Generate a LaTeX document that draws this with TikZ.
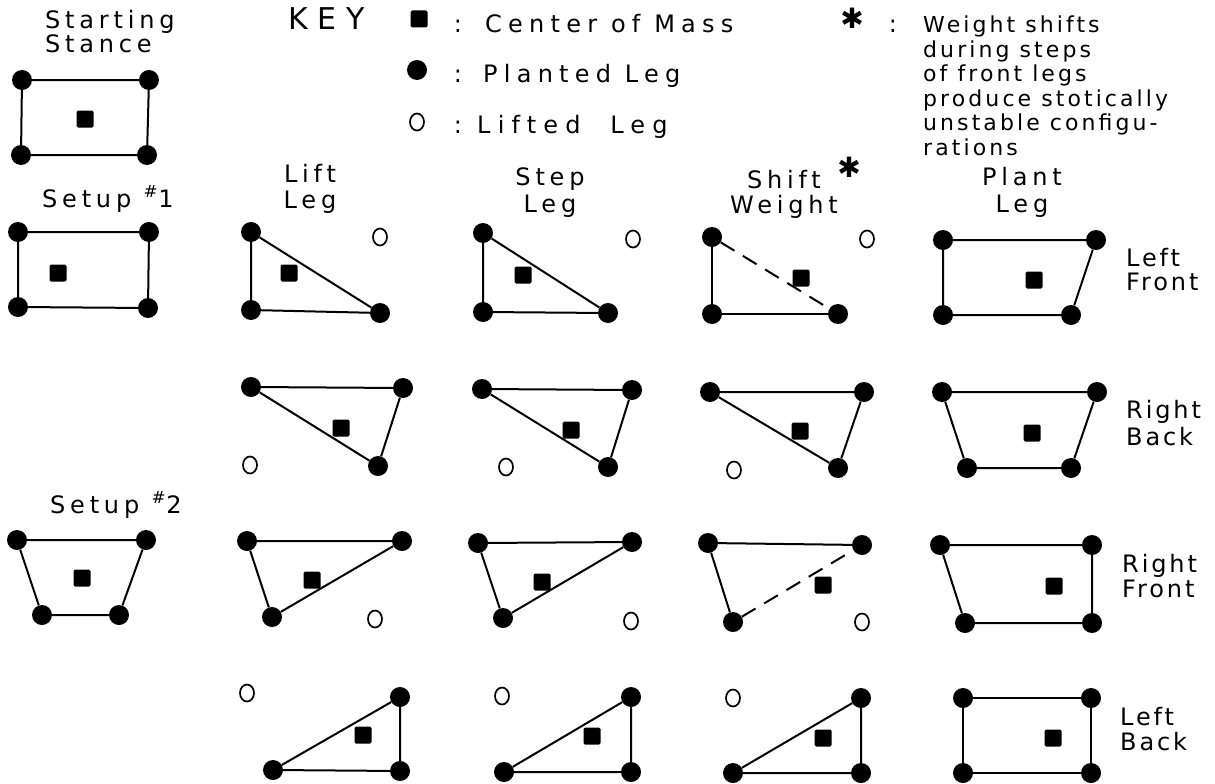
\documentclass[tikz,border=0pt]{standalone}
\usepackage{fontspec}
\setmainfont{DejaVu Sans}[LetterSpace=20]
\usetikzlibrary{shapes.geometric}

\begin{document}
\begin{tikzpicture}[x=1pt, y=-1pt,
		% legs and centre of mass
		planted/.style={circle, fill=black, inner sep=0pt, minimum size=20pt},
		lifted/.style={ellipse, draw=black, line width=1.7pt, inner sep=0pt, minimum width=14pt, minimum height=17pt},
		com/.style={rectangle, fill=black, rounded corners=1.5pt, inner sep=0pt, minimum width=17pt, minimum height=17pt},
		% support polygon edges
		edge/.style={line width=2pt},
		shifted/.style={edge, dash pattern=on 16pt off 10pt},
		% lettering
		keytext/.style={font=\fontsize{24}{24.5}\selectfont, inner sep=0pt},
		notetext/.style={font=\fontsize{22}{24.5}\selectfont\addfontfeature{LetterSpace=14}, align=left, inner sep=0pt, anchor=north west},
		headtext/.style={font=\fontsize{24}{26}\selectfont, align=center, inner sep=0pt, anchor=north},
		rowtext/.style={font=\fontsize{24}{25}\selectfont\addfontfeature{LetterSpace=12}, align=left, inner sep=0pt, anchor=north west}
		]
		\useasboundingbox (0,0) rectangle (1215,784);

		% =========================================================================
		% STARTING STANCE AND KEY
		% =========================================================================
		\node[keytext, align=left, anchor=north west] (start) at (45,10) {Starting\\Stance};
		\node[planted] (s0fl) at (22,80) {};
		\node[planted] (s0fr) at (149,80) {};
		\node[planted] (s0bl) at (21,155) {};
		\node[planted] (s0br) at (147,155) {};
		\node[com] (s0m) at (85,119) {};
		\draw[edge] (s0fl) -- (s0fr) -- (s0br) -- (s0bl) -- (s0fl);

		\node[keytext, font=\fontsize{30}{30}\selectfont\addfontfeature{LetterSpace=32}, anchor=base west] (key) at (288,30) {KEY};
		\node[com] (keycom) at (419,19) {};
		\node[planted] (keyplant) at (417,70) {};
		\node[lifted] (keylift) at (417,122) {};
		\node[keytext, anchor=base] (c1) at (458,33) {:};
		\node[keytext, anchor=base] (c2) at (458,82) {:};
		\node[keytext, anchor=base] (c3) at (458,133) {:};
		\node[keytext, font=\fontsize{24}{24.5}\selectfont\addfontfeature{LetterSpace=26}, anchor=base west] (keycomtxt) at (485,33) {Center of Mass};
		\node[keytext, font=\fontsize{24}{24.5}\selectfont\addfontfeature{LetterSpace=26}, anchor=base west] (keyplanttxt) at (483,82) {Planted Leg};
		\node[keytext, font=\fontsize{24}{24.5}\selectfont\addfontfeature{LetterSpace=30}, anchor=base west] (keylifttxt) at (477,133) {Lifted~~Leg};

		\node[keytext, font=\fontsize{28}{28}\selectfont] (keystar) at (852,18) {✱};
		\node[keytext, anchor=base] (c4) at (893,33) {:};
		\node[notetext] (note) at (923,16)
		{Weight shifts\\during steps\\of front legs\\produce stotically\\unstable configu-\\rations};

		% =========================================================================
		% COLUMN AND ROW HEADINGS
		% =========================================================================
		\node[headtext] (hlift) at (310,164) {Lift\\Leg};
		\node[headtext, font=\fontsize{24}{27}\selectfont] (hstep) at (550,167) {Step\\Leg};
		\node[headtext, font=\fontsize{24}{25}\selectfont] (hshift) at (784,170) {Shift\\Weight};
		\node[keytext, font=\fontsize{28}{28}\selectfont] (hstar) at (849,167) {✱};
		\node[headtext, font=\fontsize{24}{27}\selectfont] (hplant) at (1022,167) {Plant\\Leg};

		\node[rowtext, font=\fontsize{24}{24}\selectfont\addfontfeature{LetterSpace=12}] (rlf) at (1126,248) {Left\\Front};
		\node[rowtext, font=\fontsize{24}{27}\selectfont\addfontfeature{LetterSpace=12}] (rrb) at (1126,400) {Right\\Back};
		\node[rowtext] (rrf) at (1122,554) {Right\\Front};
		\node[rowtext] (rlb) at (1120,707) {Left\\Back};

		\node[keytext, anchor=base west] (setup1) at (42,207) {Setup \textsuperscript{\#}1};
		\node[keytext, anchor=base west] (setup2) at (50,513) {Setup \textsuperscript{\#}2};

		% =========================================================================
		% SETUP STANCES
		% =========================================================================
		\node[planted] (u1fl) at (18,232) {};
		\node[planted] (u1fr) at (149,232) {};
		\node[planted] (u1bl) at (18,307) {};
		\node[planted] (u1br) at (148,308) {};
		\node[com] (u1m) at (58,273) {};
		\draw[edge] (u1fl) -- (u1fr) -- (u1br) -- (u1bl) -- (u1fl);

		\node[planted] (u2fl) at (17,540) {};
		\node[planted] (u2fr) at (146,540) {};
		\node[planted] (u2bl) at (42,615) {};
		\node[planted] (u2br) at (119,615) {};
		\node[com] (u2m) at (82,578) {};
		\draw[edge] (u2fl) -- (u2fr) -- (u2br) -- (u2bl) -- (u2fl);

		% =========================================================================
		% ROW 1: LEFT FRONT
		% =========================================================================
		\node[planted] (a1fl) at (251,232) {};
		\node[planted] (a1bl) at (251,310) {};
		\node[planted] (a1br) at (380,313) {};
		\node[lifted] (a1fr) at (380,237) {};
		\node[com] (a1m) at (289,273) {};
		\draw[edge] (a1fl) -- (a1br) -- (a1bl) -- (a1fl);

		\node[planted] (b1fl) at (483,233) {};
		\node[planted] (b1bl) at (483,312) {};
		\node[planted] (b1br) at (608,313) {};
		\node[lifted] (b1fr) at (633,239) {};
		\node[com] (b1m) at (523,275) {};
		\draw[edge] (b1fl) -- (b1br) -- (b1bl) -- (b1fl);

		\node[planted] (c1fl) at (712,237) {};
		\node[planted] (c1bl) at (712,314) {};
		\node[planted] (c1br) at (838,314) {};
		\node[lifted] (c1fr) at (867,239) {};
		\node[com] (c1m) at (801,278) {};
		\draw[edge] (c1br) -- (c1bl) -- (c1fl);
		\draw[shifted] (c1fl) -- (c1br);

		\node[planted] (d1fl) at (943,240) {};
		\node[planted] (d1fr) at (1096,240) {};
		\node[planted] (d1bl) at (943,315) {};
		\node[planted] (d1br) at (1071,315) {};
		\node[com] (d1m) at (1034,280) {};
		\draw[edge] (d1fl) -- (d1fr) -- (d1br) -- (d1bl) -- (d1fl);

		% =========================================================================
		% ROW 2: RIGHT BACK
		% =========================================================================
		\node[planted] (a2fl) at (251,387) {};
		\node[planted] (a2fr) at (403,388) {};
		\node[planted] (a2br) at (378,466) {};
		\node[lifted] (a2bl) at (250,465) {};
		\node[com] (a2m) at (341,428) {};
		\draw[edge] (a2fl) -- (a2fr) -- (a2br) -- (a2fl);

		\node[planted] (b2fl) at (482,389) {};
		\node[planted] (b2fr) at (632,390) {};
		\node[planted] (b2br) at (608,467) {};
		\node[lifted] (b2bl) at (506,467) {};
		\node[com] (b2m) at (571,430) {};
		\draw[edge] (b2fl) -- (b2fr) -- (b2br) -- (b2fl);

		\node[planted] (c2fl) at (710,392) {};
		\node[planted] (c2fr) at (864,392) {};
		\node[planted] (c2br) at (838,468) {};
		\node[lifted] (c2bl) at (734,470) {};
		\node[com] (c2m) at (800,431) {};
		\draw[edge] (c2fl) -- (c2fr) -- (c2br) -- (c2fl);

		\node[planted] (d2fl) at (942,392) {};
		\node[planted] (d2fr) at (1097,392) {};
		\node[planted] (d2bl) at (967,468) {};
		\node[planted] (d2br) at (1071,468) {};
		\node[com] (d2m) at (1032,433) {};
		\draw[edge] (d2fl) -- (d2fr) -- (d2br) -- (d2bl) -- (d2fl);

		% =========================================================================
		% ROW 3: RIGHT FRONT
		% =========================================================================
		\node[planted] (a3fl) at (247,541) {};
		\node[planted] (a3fr) at (402,541) {};
		\node[planted] (a3bl) at (272,617) {};
		\node[lifted] (a3br) at (375,619) {};
		\node[com] (a3m) at (312,580) {};
		\draw[edge] (a3fl) -- (a3fr) -- (a3bl) -- (a3fl);

		\node[planted] (b3fl) at (478,543) {};
		\node[planted] (b3fr) at (632,542) {};
		\node[planted] (b3bl) at (503,618) {};
		\node[lifted] (b3br) at (631,621) {};
		\node[com] (b3m) at (542,582) {};
		\draw[edge] (b3fl) -- (b3fr) -- (b3bl) -- (b3fl);

		\node[planted] (c3fl) at (708,543) {};
		\node[planted] (c3fr) at (862,545) {};
		\node[planted] (c3bl) at (733,622) {};
		\node[lifted] (c3br) at (862,622) {};
		\node[com] (c3m) at (823,585) {};
		\draw[edge] (c3bl) -- (c3fl) -- (c3fr);
		\draw[shifted] (c3bl) -- (c3fr);

		\node[planted] (d3fl) at (940,545) {};
		\node[planted] (d3fr) at (1092,545) {};
		\node[planted] (d3bl) at (965,623) {};
		\node[planted] (d3br) at (1092,623) {};
		\node[com] (d3m) at (1054,586) {};
		\draw[edge] (d3fl) -- (d3fr) -- (d3br) -- (d3bl) -- (d3fl);

		% =========================================================================
		% ROW 4: LEFT BACK
		% =========================================================================
		\node[lifted] (a4fl) at (247,693) {};
		\node[planted] (a4fr) at (400,697) {};
		\node[planted] (a4bl) at (273,770) {};
		\node[planted] (a4br) at (400,771) {};
		\node[com] (a4m) at (363,735) {};
		\draw[edge] (a4bl) -- (a4fr) -- (a4br) -- (a4bl);

		\node[lifted] (b4fl) at (502,696) {};
		\node[planted] (b4fr) at (631,697) {};
		\node[planted] (b4bl) at (504,772) {};
		\node[planted] (b4br) at (631,772) {};
		\node[com] (b4m) at (592,736) {};
		\draw[edge] (b4bl) -- (b4fr) -- (b4br) -- (b4bl);

		\node[lifted] (c4fl) at (733,698) {};
		\node[planted] (c4fr) at (861,698) {};
		\node[planted] (c4bl) at (733,773) {};
		\node[planted] (c4br) at (861,773) {};
		\node[com] (c4m) at (823,738) {};
		\draw[edge] (c4bl) -- (c4fr) -- (c4br) -- (c4bl);

		\node[planted] (d4fl) at (963,698) {};
		\node[planted] (d4fr) at (1091,698) {};
		\node[planted] (d4bl) at (963,773) {};
		\node[planted] (d4br) at (1091,773) {};
		\node[com] (d4m) at (1053,738) {};
		\draw[edge] (d4fl) -- (d4fr) -- (d4br) -- (d4bl) -- (d4fl);

	\end{tikzpicture}
\end{document}
